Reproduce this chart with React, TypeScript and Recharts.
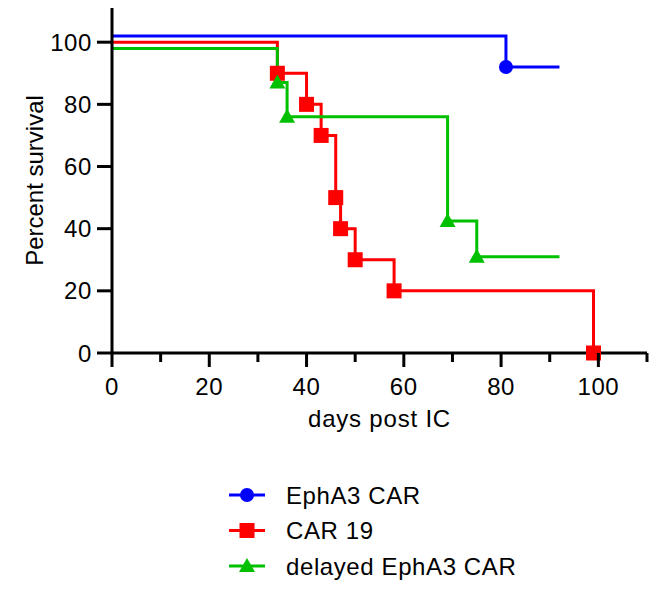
import React from 'react';
import { LineChart, Line, XAxis, YAxis, Label } from 'recharts';

// Valores (días post IC y % de supervivencia en cada evento)
const epha3Days = [81];
const epha3Survival = [92];
const epha3Start = 102;
const epha3End = 92;

const car19Days = [34, 40, 43, 46, 47, 50, 58, 99];
const car19Survival = [90, 80, 70, 50, 40, 30, 20, 0];
const car19Start = 100;
const car19End = 99;

const delayedDays = [34, 36, 69, 75];
const delayedSurvival = [87, 76, 42.5, 31];
const delayedStart = 98;
const delayedEnd = 92;

const xTicks = [0, 10, 20, 30, 40, 50, 60, 70, 80, 90, 100, 110];
const yTicks = [0, 20, 40, 60, 80, 100];

const FONT = '"Liberation Sans", Arial, sans-serif';

type Shape = 'circle' | 'square' | 'triangle';

// Construir la curva escalonada: punto inicial, eventos y fin de seguimiento
const buildCurve = (start: number, days: number[], values: number[], end: number) => {
  const pts: { day: number; survival: number; event: boolean }[] = [{ day: 0, survival: start, event: false }];
  days.forEach((d, i) => pts.push({ day: d, survival: values[i], event: true }));
  const last = days[days.length - 1];
  if (end > last) pts.push({ day: end, survival: values[values.length - 1], event: false });
  return pts;
};

const SERIES = [
  { name: 'EphA3 CAR', color: '#0000ff', shape: 'circle' as Shape, data: buildCurve(epha3Start, epha3Days, epha3Survival, epha3End) },
  { name: 'CAR 19', color: '#ff0000', shape: 'square' as Shape, data: buildCurve(car19Start, car19Days, car19Survival, car19End) },
  { name: 'delayed EphA3 CAR', color: '#00c000', shape: 'triangle' as Shape, data: buildCurve(delayedStart, delayedDays, delayedSurvival, delayedEnd) }
];

const Marker = ({ cx, cy, shape, color }: { cx: number; cy: number; shape: Shape; color: string }) => {
  if (shape === 'circle') return <circle cx={cx} cy={cy} r={7} fill={color} />;
  if (shape === 'square') return <rect x={cx - 7.5} y={cy - 7.5} width={15} height={15} fill={color} />;
  return <polygon points={`${cx},${cy - 8} ${cx + 8},${cy + 6} ${cx - 8},${cy + 6}`} fill={color} />;
};

const XTick = (props: any) => {
  const { x, y, payload } = props;
  const major = payload.value % 20 === 0;
  return (
    <g>
      <line x1={x} x2={x} y1={y} y2={y + (major ? 14 : 9)} stroke="#000" strokeWidth={3} />
      {major && (
        <text x={x} y={y + 42} textAnchor="middle" fontSize={24} letterSpacing={0.6} fontFamily={FONT} fill="#000">
          {payload.value}
        </text>
      )}
    </g>
  );
};

const YTick = (props: any) => {
  const { x, y, payload } = props;
  return (
    <g>
      <line x1={x - 15} x2={x} y1={y} y2={y} stroke="#000" strokeWidth={3} />
      <text x={x - 20} y={y + 8.5} textAnchor="end" fontSize={24} letterSpacing={0.6} fontFamily={FONT} fill="#000">
        {payload.value}
      </text>
    </g>
  );
};

const App = () => {
  return (
    <div style={{ width: 652, fontFamily: FONT }}>
      <LineChart width={652} height={440} margin={{ top: 0, right: 13, bottom: 0, left: 0 }}>
        <XAxis
          dataKey="day"
          type="number"
          domain={[0, 110]}
          ticks={xTicks}
          interval={0}
          tickSize={0}
          tickMargin={0}
          tickLine={false}
          tick={<XTick />}
          height={95}
          axisLine={{ stroke: '#000', strokeWidth: 3 }}
        >
          <Label
            value="days post IC"
            position="insideBottom"
            offset={21}
            style={{ fontSize: 24, fontFamily: FONT, fill: '#000', letterSpacing: 0.8 }}
          />
        </XAxis>
        <YAxis
          type="number"
          domain={[0, 111]}
          ticks={yTicks}
          interval={0}
          tickSize={0}
          tickMargin={0}
          tickLine={false}
          tick={<YTick />}
          width={104}
          axisLine={{ stroke: '#000', strokeWidth: 3 }}
        >
          <Label
            content={(p: any) => {
              const vb = p.viewBox;
              const cy = vb.y + vb.height / 2;
              return (
                <text
                  x={35}
                  y={cy}
                  transform={`rotate(-90, 35, ${cy})`}
                  textAnchor="middle"
                  fontSize={24}
                  fontFamily={FONT}
                  fill="#000"
                >
                  Percent survival
                </text>
              );
            }}
          />
        </YAxis>
        {SERIES.map((s) => (
          <Line
            key={s.name}
            data={s.data}
            dataKey="survival"
            type="stepAfter"
            stroke={s.color}
            strokeWidth={3}
            isAnimationActive={false}
            dot={(p: any) =>
              p.payload.event ? (
                <Marker key={`${s.name}-${p.index}`} cx={p.cx} cy={p.cy} shape={s.shape} color={s.color} />
              ) : (
                <g key={`${s.name}-${p.index}`} />
              )
            }
            activeDot={false}
          />
        ))}
      </LineChart>
      {/* Leyenda */}
      <svg width={652} height={135}>
        {SERIES.map((s, i) => {
          const y = 47 + i * 35.5;
          return (
            <g key={s.name}>
              <line x1={221} x2={257} y1={y} y2={y} stroke={s.color} strokeWidth={3} />
              <Marker cx={239} cy={y} shape={s.shape} color={s.color} />
              <text x={278} y={y + 8.5} fontSize={24} letterSpacing={0.6} fontFamily={FONT} fill="#000">
                {s.name}
              </text>
            </g>
          );
        })}
      </svg>
    </div>
  );
};

export default App;
